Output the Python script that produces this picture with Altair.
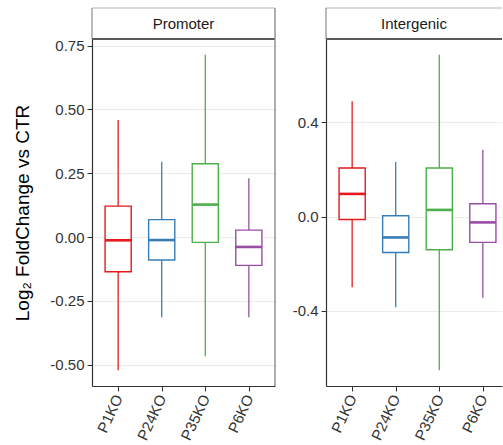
import altair as alt
import pandas as pd

groups = ["P1KO", "P24KO", "P35KO", "P6KO"]
colors = ["#E41A1C", "#377EB8", "#4DAF4A", "#984EA3"]

# Promoter: lower whisker, Q1, median, Q3, upper whisker
prom_low = [-0.522, -0.314, -0.467, -0.314]
prom_q1 = [-0.136, -0.090, -0.021, -0.111]
prom_med = [-0.013, -0.012, 0.127, -0.039]
prom_q3 = [0.121, 0.068, 0.287, 0.027]
prom_high = [0.458, 0.295, 0.714, 0.230]
prom_ticks = [-0.5, -0.25, 0.0, 0.25, 0.5, 0.75]

# Intergenic
inter_low = [-0.301, -0.386, -0.653, -0.345]
inter_q1 = [-0.013, -0.153, -0.141, -0.110]
inter_med = [0.096, -0.089, 0.028, -0.025]
inter_q3 = [0.206, 0.003, 0.206, 0.054]
inter_high = [0.490, 0.231, 0.687, 0.284]
inter_ticks = [-0.4, 0.0, 0.4]

FONT = "Liberation Sans"
W1 = 183
W2 = 176
H = 347
STRIP = 31


def panel(name, low, q1, med, q3, high, ticks, fmt, width, right_border, ytitle):
    df = pd.DataFrame({
        "group": groups, "idx": list(range(1, len(groups) + 1)),
        "low": low, "q1": q1, "med": med, "q3": q3, "high": high,
    })
    lo, hi = min(low), max(high)
    pad = 0.05 * (hi - lo)
    ys = alt.Scale(domain=[lo - pad, hi + pad], nice=False, zero=False)
    xs = alt.Scale(domain=[0.4, 0.4 + 4.2 * width / W1], nice=False, zero=False)
    color = alt.Color("group:N", scale=alt.Scale(domain=groups, range=colors), legend=None)
    labels_js = "[" + ",".join(f"'{g}'" for g in groups) + "]"
    xaxis = alt.Axis(values=[1, 2, 3, 4], labelExpr=f"{labels_js}[datum.value-1]",
                     title=None, grid=False, labelAngle=295, labelAlign="right",
                     labelBaseline="middle", labelPadding=4)
    yargs = dict(values=ticks,
                 labelExpr=f"replace(format(datum.value,'{fmt}'),'\u2212','-')",
                 grid=True, gridColor="#ebebeb", gridWidth=1)
    if ytitle:
        yargs.update(title=ytitle, titleX=-70, titleY=H / 2, titleAngle=270,
                     titleBaseline="middle", titleAlign="center")
    else:
        yargs.update(title=None)
    yaxis = alt.Axis(**yargs)

    base = alt.Chart(df).transform_calculate(xlo="datum.idx-0.3", xhi="datum.idx+0.3")
    up = base.mark_rule(strokeWidth=1.3).encode(
        x=alt.X("idx:Q", scale=xs, axis=xaxis),
        y=alt.Y("q3:Q", scale=ys, axis=yaxis), y2="high:Q", color=color)
    dn = base.mark_rule(strokeWidth=1.3).encode(
        x=alt.X("idx:Q", scale=xs, axis=xaxis),
        y=alt.Y("low:Q", scale=ys, axis=yaxis), y2="q1:Q", color=color)
    box = base.mark_rect(fill="white", strokeWidth=1.4).encode(
        x=alt.X("xlo:Q", scale=xs, axis=xaxis), x2="xhi:Q",
        y=alt.Y("q1:Q", scale=ys, axis=yaxis), y2="q3:Q", stroke=color)
    mid = base.mark_rule(strokeWidth=2.6).encode(
        x=alt.X("xlo:Q", scale=xs, axis=xaxis), x2="xhi:Q",
        y=alt.Y("med:Q", scale=ys, axis=yaxis), color=color)

    deco_df = pd.DataFrame({"d": [0]})
    d = alt.Chart(deco_df)
    layers = [up, dn, box, mid]
    # strip
    layers.append(d.mark_rule(color="#b3b3b3", strokeWidth=1.2).encode(
        x=alt.value(0), x2=alt.value(width), y=alt.value(-STRIP)))
    layers.append(d.mark_rule(color="#8c8c8c", strokeWidth=1.2).encode(
        x=alt.value(0), y=alt.value(-STRIP), y2=alt.value(0)))
    layers.append(d.mark_rule(color="#595959", strokeWidth=2).encode(
        x=alt.value(0), x2=alt.value(width), y=alt.value(0)))
    if right_border:
        layers.append(d.mark_rule(color="#8c8c8c", strokeWidth=1.4).encode(
            x=alt.value(width), y=alt.value(-STRIP), y2=alt.value(H)))
    layers.append(d.mark_text(fontSize=15, font=FONT, color="#1a1a1a", baseline="middle").encode(
        x=alt.value(width / 2), y=alt.value(-STRIP / 2), text=alt.value(name)))
    return alt.layer(*layers).properties(width=width, height=H)


p1 = panel("Promoter", prom_low, prom_q1, prom_med, prom_q3, prom_high,
           prom_ticks, ".2f", W1, True, "Log\u2082 FoldChange vs CTR")
p2 = panel("Intergenic", inter_low, inter_q1, inter_med, inter_q3, inter_high,
           inter_ticks, ".1f", W2, False, None)

chart = alt.hconcat(p1, p2, spacing=51, bounds="flush").properties(
    padding={"left": 13, "top": 7, "right": 0, "bottom": 0}
).configure_view(strokeWidth=0).configure_axis(
    labelFont=FONT, titleFont=FONT, labelFontSize=15, titleFontSize=19,
    labelColor="#333333", titleColor="#000000", titleFontWeight="normal",
    domainColor="#333333", domainWidth=1.2, tickColor="#333333", tickSize=5,
    labelPadding=3
)

chart.save("out.html", embed_options={"renderer": "svg", "actions": False})
